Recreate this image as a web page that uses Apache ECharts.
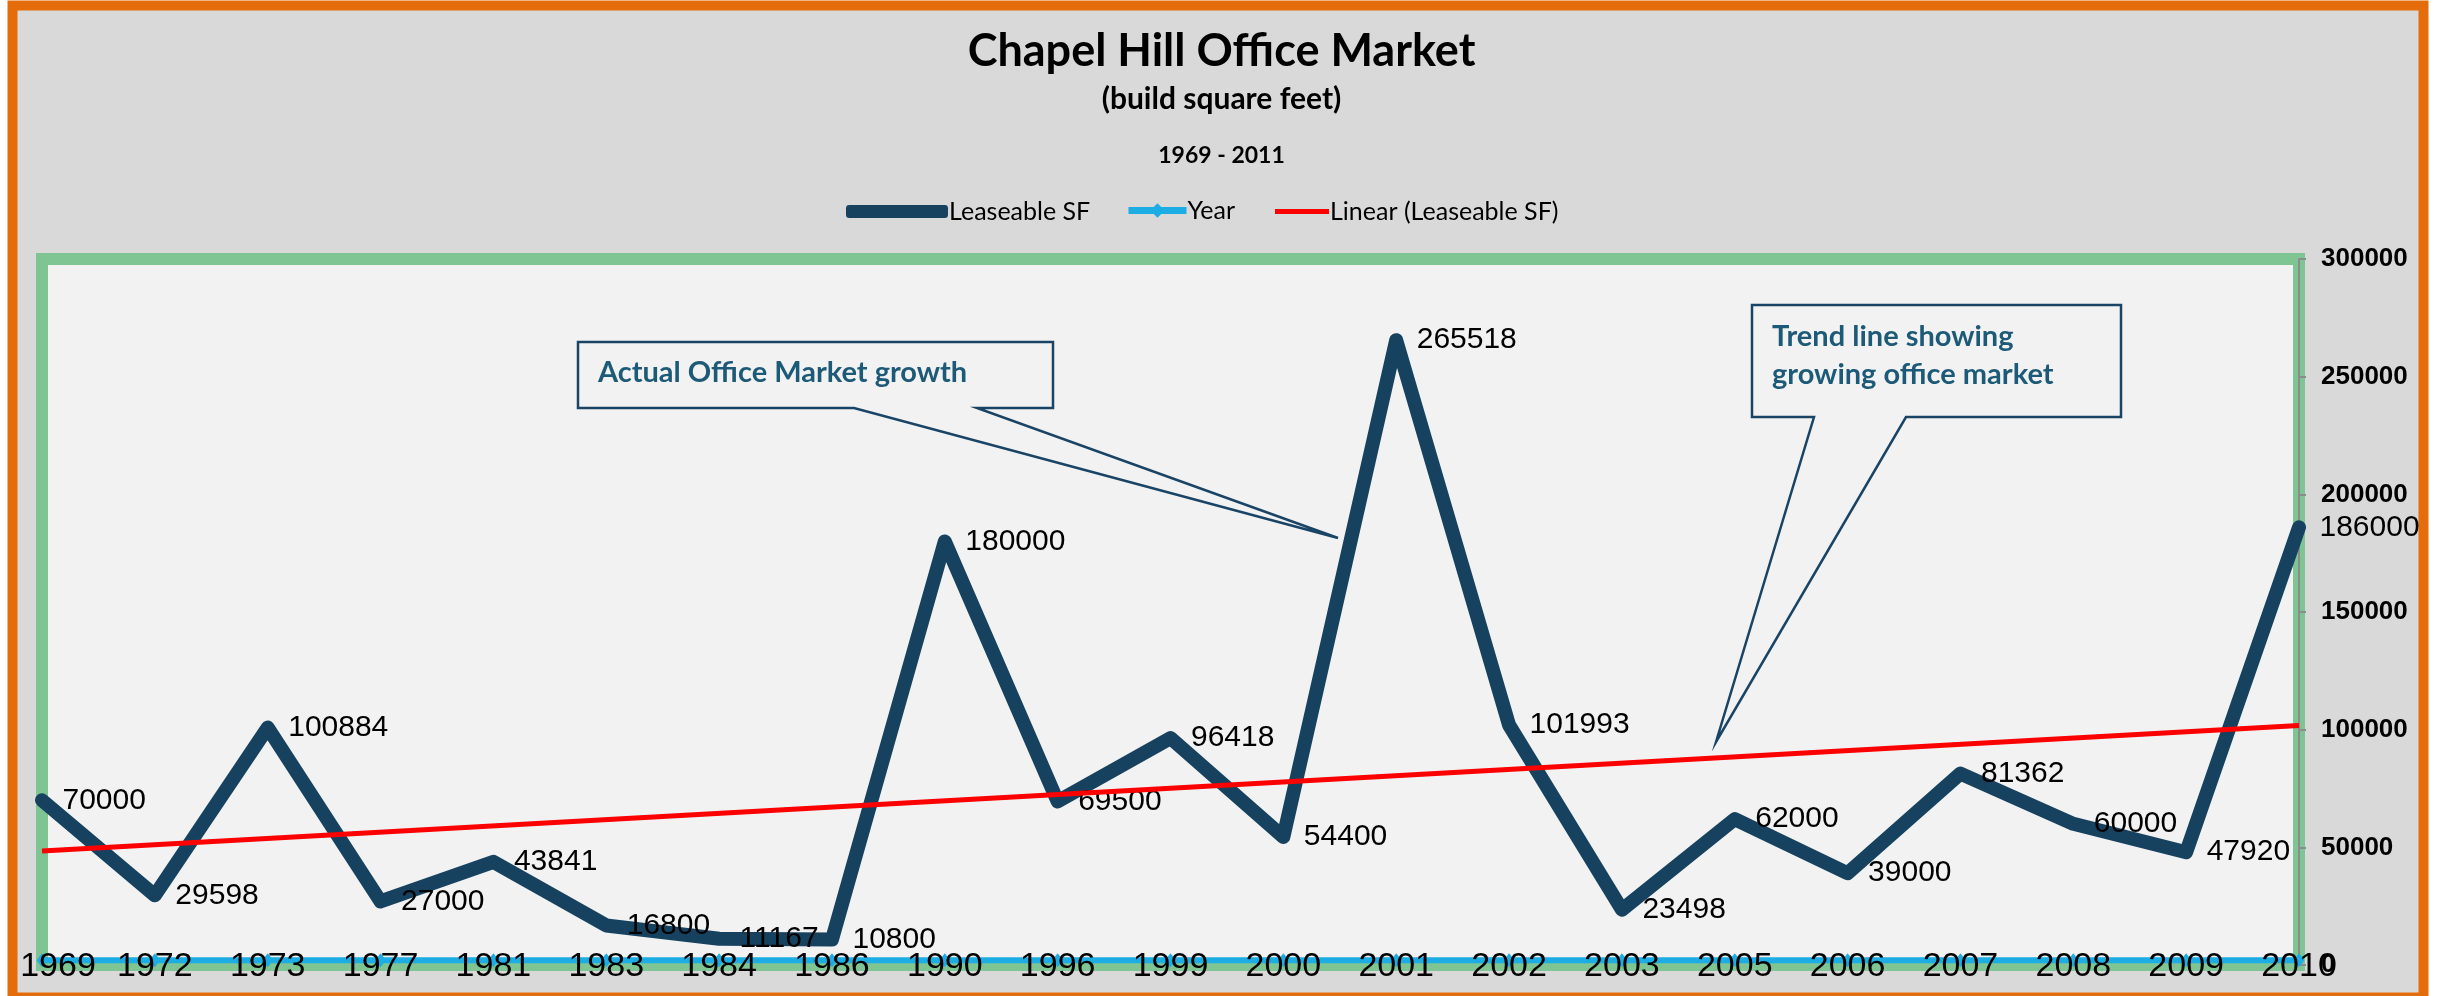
<!DOCTYPE html>
<html>
<head>
<meta charset="utf-8">
<script src="https://cdn.jsdelivr.net/npm/echarts@6/dist/echarts.min.js"></script>
<style>
  html, body { margin: 0; padding: 0; background: #fff; }
  #chart { width: 2443px; height: 996px; }
</style>
</head>
<body>
<div id="chart"></div>
<script>
// data
const categories = ["1969", "1972", "1973", "1977", "1981", "1983", "1984", "1986", "1990", "1996",
  "1999", "2000", "2001", "2002", "2003", "2005", "2006", "2007", "2008", "2009", "2010"];
const leaseableSF = [70000, 29598, 100884, 27000, 43841, 16800, 11167, 10800, 180000, 69500,
  96418, 54400, 265518, 101993, 23498, 62000, 39000, 81362, 60000, 47920, 186000];
const yearValues = [1969, 1972, 1973, 1977, 1981, 1983, 1984, 1986, 1990, 1996,
  1999, 2000, 2001, 2002, 2003, 2005, 2006, 2007, 2008, 2009, 2010];
// linear trend (Excel trendline), start and end values
const trendEnds = [48450, 101800];
const yMin = 0, yMax = 300000, yStep = 50000;

const LABEL_FONT = "'Liberation Sans', Arial, sans-serif";
const HEAD = "Lato, 'Noto Sans', sans-serif";

const chart = echarts.init(document.getElementById("chart"));

const last = categories.length - 1;
const trendData = categories.map((c, i) => (i === 0 ? trendEnds[0] : i === last ? trendEnds[1] : null));
const yearData = yearValues.map((v, i) => ({
  value: v,
  label: i === 0 ? { offset: [16, 6] } : undefined,
}));

const legendText = { fontFamily: HEAD, fontSize: 25, color: "#000", padding: [0, 0, 0, -4] };

chart.setOption({
  backgroundColor: "#ffffff",
  animation: false,
  title: [
    {
      text: "Chapel Hill Office Market",
      left: "center",
      top: 24,
      textStyle: { fontFamily: HEAD, fontWeight: "bold", fontSize: 45, color: "#000" },
    },
    {
      text: "(build square feet)",
      left: "center",
      top: 79,
      textStyle: { fontFamily: HEAD, fontWeight: "bold", fontSize: 30, color: "#000" },
    },
    {
      text: "1969 - 2011",
      left: "center",
      top: 139,
      textStyle: { fontFamily: HEAD, fontWeight: "bold", fontSize: 23, color: "#000" },
    },
  ],
  legend: [
    {
      data: [{ name: "Leaseable SF", icon: "roundRect" }],
      left: 841,
      top: 194,
      itemWidth: 102,
      itemHeight: 13,
      textStyle: legendText,
    },
    {
      data: ["Year"],
      left: 1120,
      top: 193,
      itemWidth: 58,
      itemHeight: 18,
      lineStyle: { width: 7 },
      textStyle: legendText,
    },
    {
      data: [{ name: "Linear (Leaseable SF)", icon: "rect" }],
      left: 1270,
      top: 194,
      itemWidth: 54,
      itemHeight: 5,
      textStyle: legendText,
    },
  ],
  grid: {
    left: 42,
    right: 144,
    top: 259,
    bottom: 31,
    show: true,
    backgroundColor: "#F2F2F2",
    borderColor: "#7FC493",
    borderWidth: 12,
  },
  xAxis: {
    type: "category",
    data: categories,
    boundaryGap: false,
    axisLine: { show: false },
    axisTick: { show: false },
    axisLabel: { show: false },
    splitLine: { show: false },
  },
  yAxis: {
    type: "value",
    position: "right",
    min: yMin,
    max: yMax,
    interval: yStep,
    axisLine: { show: true, lineStyle: { color: "#8C8C8C", width: 2 } },
    axisTick: { show: true, length: 7, lineStyle: { color: "#8C8C8C", width: 2 } },
    splitLine: { show: false },
    axisLabel: {
      margin: 22,
      formatter: (v) => String(v),
      fontFamily: LABEL_FONT,
      fontWeight: "bold",
      fontSize: 26,
      color: "#000",
    },
  },
  series: [
    {
      name: "Leaseable SF",
      type: "line",
      data: leaseableSF,
      symbol: "circle",
      symbolSize: 1,
      itemStyle: { color: "#17425F" },
      lineStyle: { color: "#17425F", width: 14, cap: "round", join: "round" },
      label: {
        show: true,
        position: "right",
        distance: 20,
        fontFamily: LABEL_FONT,
        fontSize: 30,
        color: "#000",
      },
      z: 3,
    },
    {
      name: "Year",
      type: "line",
      data: yearData,
      symbol: "diamond",
      symbolSize: [11, 14],
      itemStyle: { color: "#1CADE4" },
      lineStyle: { color: "#1CADE4", width: 6 },
      label: {
        show: true,
        position: "inside",
        offset: [0, 6],
        fontFamily: LABEL_FONT,
        fontSize: 34,
        color: "#000",
      },
      z: 2,
    },
    {
      name: "Linear (Leaseable SF)",
      type: "line",
      data: trendData,
      connectNulls: true,
      symbol: "none",
      itemStyle: { color: "#FF0000" },
      lineStyle: { color: "#FF0000", width: 5 },
      z: 4,
    },
  ],
  graphic: [
    {
      type: "rect",
      z: -10,
      silent: true,
      shape: { x: 12.5, y: 5.5, width: 2411, height: 992 },
      style: { fill: "#D9D9D9", stroke: "#E46C0A", lineWidth: 10 },
    },
    {
      type: "polygon",
      z: 50,
      shape: {
        points: [[578, 342], [1053, 342], [1053, 408], [977, 408], [1338, 538], [854, 408], [578, 408]],
      },
      style: { fill: "#F2F2F2", stroke: "#1A4466", lineWidth: 2.5 },
    },
    {
      type: "text",
      z: 51,
      style: {
        text: "Actual Office Market growth",
        x: 598,
        y: 373,
        verticalAlign: "middle",
        font: "bold 29px Lato, 'Noto Sans', sans-serif",
        fill: "#1D5A78",
      },
    },
    {
      type: "polygon",
      z: 50,
      shape: {
        points: [[1752, 305], [2121, 305], [2121, 417], [1906, 417], [1716, 742], [1814, 417], [1752, 417]],
      },
      style: { fill: "#F2F2F2", stroke: "#1A4466", lineWidth: 2.5 },
    },
    {
      type: "text",
      z: 51,
      style: {
        text: "Trend line showing\ngrowing office market",
        x: 1772,
        y: 318,
        lineHeight: 38,
        font: "bold 29px Lato, 'Noto Sans', sans-serif",
        fill: "#1D5A78",
      },
    },
  ],
});
</script>
</body>
</html>
